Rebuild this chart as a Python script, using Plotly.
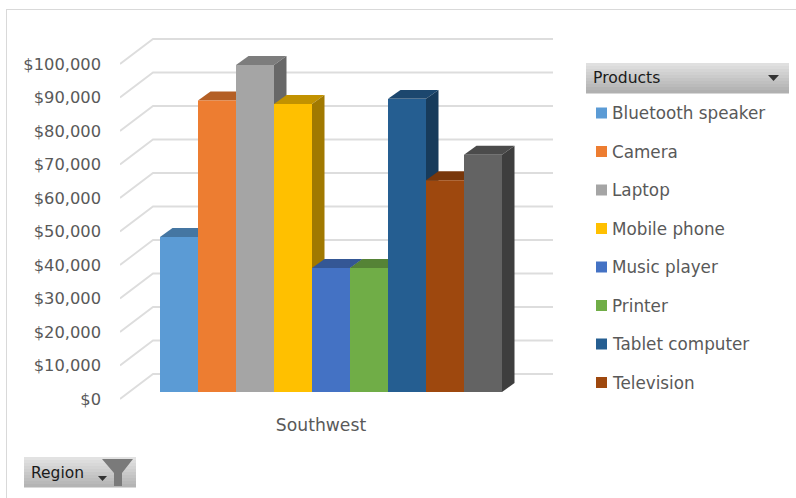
import plotly.graph_objects as go

# --- data ---
region = "Southwest"
products = ["Bluetooth speaker", "Camera", "Laptop", "Mobile phone", "Music player",
            "Printer", "Tablet computer", "Television", "Other"]
sales = [46300, 87000, 97600, 86000, 37000, 37000, 87500, 63200, 70800]
colors = ["#5B9BD5", "#ED7D31", "#A5A5A5", "#FFC000", "#4472C4",
          "#70AD47", "#255E91", "#9E480E", "#636363"]
tick_values = [0, 10000, 20000, 30000, 40000, 50000, 60000, 70000, 80000, 90000, 100000]
tick_labels = ["$0", "$10,000", "$20,000", "$30,000", "$40,000", "$50,000",
               "$60,000", "$70,000", "$80,000", "$90,000", "$100,000"]
legend_count = 8

# --- layout geometry (pixels) ---
W, H = 796, 498
L, R, T, B = 120, 553, 30, 405
BAR_X0, BAR_W = 160, 38
PX_PER_UNIT = 3.35 / 1000
ZERO_LABEL_Y, ZERO_BAR_Y = 399, 392
BASE = (ZERO_LABEL_Y - ZERO_BAR_Y) / PX_PER_UNIT
GRID_DX, GRID_DY = 33 / BAR_W, 25 / PX_PER_UNIT
BAR_DX, BAR_DY = 12.5 / BAR_W, 9 / PX_PER_UNIT
FONT = "DejaVu Sans"


def shade(hex_color, f):
    r, g, b = (int(hex_color[i:i + 2], 16) for i in (1, 3, 5))
    return f"rgb({r * f:.0f},{g * f:.0f},{b * f:.0f})"


def px(x):
    return (x - L) / (R - L)


def py(y):
    return (B - y) / (B - T)


xmin, xmax = (L - BAR_X0) / BAR_W, (R - BAR_X0) / BAR_W
fig = go.Figure()

# back-wall gridlines, on the labelled axis
for v in tick_values:
    fig.add_trace(go.Scatter(
        x=[xmin, xmin + GRID_DX, xmax], y=[v, v + GRID_DY, v + GRID_DY],
        mode="lines", line=dict(color="#DDDDDD", width=1.8),
        hoverinfo="skip", showlegend=False, cliponaxis=False))

# top and side faces, left to right
for i, (name, v, c) in enumerate(zip(products, sales, colors)):
    y = v + BASE
    fig.add_trace(go.Scatter(
        x=[i, i + BAR_DX, i + 1 + BAR_DX, i + 1, i],
        y=[y, y + BAR_DY, y + BAR_DY, y, y],
        fill="toself", fillcolor=shade(c, 0.76), mode="none",
        hoverinfo="skip", showlegend=False, cliponaxis=False))
    fig.add_trace(go.Scatter(
        x=[i + 1, i + 1 + BAR_DX, i + 1 + BAR_DX, i + 1, i + 1],
        y=[y, y + BAR_DY, BASE + BAR_DY, BASE, y],
        fill="toself", fillcolor=shade(c, 0.63), mode="none",
        hoverinfo="skip", showlegend=False, cliponaxis=False))

# front faces on the overlaying axis
for i, (name, v, c) in enumerate(zip(products, sales, colors)):
    fig.add_trace(go.Bar(
        x=[i + 0.5], y=[v], width=[1], name=name, yaxis="y2",
        marker=dict(color=c, line=dict(width=0)), showlegend=False))

shapes, annotations = [], []


def rect(x0, y0, x1, y1, color):
    shapes.append(dict(type="rect", xref="paper", yref="paper",
                       x0=px(x0), x1=px(x1), y0=py(y0), y1=py(y1),
                       fillcolor=color, line=dict(width=0), layer="above"))


def label(x, y, text, size, color, anchor="left"):
    annotations.append(dict(xref="paper", yref="paper", x=px(x - 2), y=py(y), text=text,
                            showarrow=False, xanchor=anchor, yanchor="middle",
                            font=dict(family=FONT, size=size, color=color)))


def gradient(x0, y0, x1, y1, top, bottom, steps=10):
    for s in range(steps):
        g = round(top + (bottom - top) * s / (steps - 1))
        rect(x0, y0 + (y1 - y0) * s / steps, x1, y0 + (y1 - y0) * (s + 1) / steps + 0.5,
             f"rgb({g},{g},{g})")


def path(points, color):
    d = "M" + "L".join(f"{px(a):.5f},{py(b):.5f}" for a, b in points) + "Z"
    shapes.append(dict(type="path", xref="paper", yref="paper", path=d,
                       fillcolor=color, line=dict(width=0), layer="above"))


# chart frame
rect(6, 9, 796, 10, "#D9D9D9")
rect(6, 9, 7, 498, "#D9D9D9")

# Products field button and legend list
gradient(586, 63, 789, 93, 224, 176)
label(593, 78, "Products", 15.6, "#1A1A1A")
path([(768, 75), (779, 75), (773.5, 81)], "#333333")
for i in range(legend_count):
    y = 113 + i * 38.5
    rect(596, y - 5.5, 607, y + 5.5, colors[i])
    label(612, y, products[i], 16.8, "#595959")

# Region filter button
gradient(24, 457, 136, 487, 226, 180)
label(31, 472.5, "Region", 15.5, "#1A1A1A")
path([(98, 476), (107, 476), (102.5, 481)], "#333333")
path([(102, 459), (133, 459), (122, 473), (122, 486), (114, 486), (114, 473)], "#7A7A7A")

fig.update_layout(
    width=W, height=H, margin=dict(l=L, r=W - R, t=T, b=H - B),
    paper_bgcolor="white", plot_bgcolor="white", barmode="overlay",
    showlegend=False, shapes=shapes, annotations=annotations,
    font=dict(family=FONT, color="#595959"),
    xaxis=dict(range=[xmin, xmax], showgrid=False, zeroline=False, showline=False,
               tickmode="array", tickvals=[(321 - BAR_X0) / BAR_W], ticktext=[region],
               tickfont=dict(family=FONT, size=17.2, color="#595959"),
               ticks="", ticklabelstandoff=8),
    yaxis=dict(range=[(ZERO_LABEL_Y - B) / PX_PER_UNIT, (ZERO_LABEL_Y - T) / PX_PER_UNIT],
               showgrid=False, zeroline=False, showline=False,
               tickmode="array", tickvals=tick_values, ticktext=tick_labels,
               tickfont=dict(family=FONT, size=16.3, color="#595959"),
               ticks="", ticklabelstandoff=18),
    yaxis2=dict(range=[(ZERO_BAR_Y - B) / PX_PER_UNIT, (ZERO_BAR_Y - T) / PX_PER_UNIT],
                overlaying="y", visible=False, showgrid=False, zeroline=False),
)

fig.write_html("out.html", config={"displayModeBar": False},
               post_script="document.body.style.margin='0';")
